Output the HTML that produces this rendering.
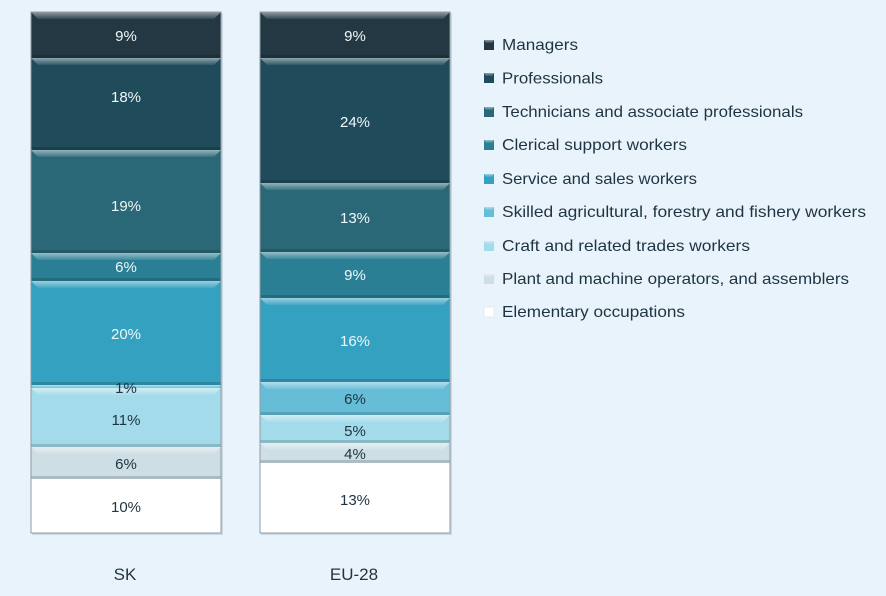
<!DOCTYPE html>
<html><head><meta charset="utf-8"><style>
html,body{margin:0;padding:0;background:#e9f3fb;}
svg{display:block;}
text{font-family:"Liberation Sans",sans-serif;}
</style></head><body>
<svg width="886" height="596" viewBox="0 0 886 596" xmlns="http://www.w3.org/2000/svg">
<defs>
<linearGradient id="hl" x1="0" y1="0" x2="0" y2="1">
<stop offset="0" stop-color="#fff" stop-opacity="0.5"/>
<stop offset="1" stop-color="#fff" stop-opacity="0.08"/>
</linearGradient>
</defs>
<rect width="886" height="596" fill="#e9f3fb"/>

<!-- shadows -->
<rect x="32" y="13" width="191" height="522" fill="#b9c6ce" opacity="0.6"/>
<rect x="261" y="13" width="191" height="522" fill="#b9c6ce" opacity="0.6"/>

<!-- SK bar -->
<g>
<rect x="31" y="12" width="190" height="46" fill="#243843"/>
<rect x="31" y="58" width="190" height="92" fill="#1f4b5a"/>
<rect x="31" y="150" width="190" height="103" fill="#2a6878"/>
<rect x="31" y="253" width="190" height="28" fill="#2b7f94"/>
<rect x="31" y="281" width="190" height="104" fill="#35a1c0"/>
<rect x="31" y="385" width="190" height="3" fill="#66bdd7"/>
<rect x="31" y="388" width="190" height="59" fill="#a3dbea"/>
<rect x="31" y="447" width="190" height="32" fill="#cddee5"/>
<rect x="31" y="479" width="190" height="54" fill="#ffffff"/>
<polygon points="31,12 221,12 214,19 38,19" fill="url(#hl)"/>
<polygon points="31,58 221,58 214,65 38,65" fill="url(#hl)"/>
<polygon points="31,150 221,150 214,157 38,157" fill="url(#hl)"/>
<polygon points="31,253 221,253 214,260 38,260" fill="url(#hl)"/>
<polygon points="31,281 221,281 214,288 38,288" fill="url(#hl)"/>
<polygon points="31,385 221,385 218,388 34,388" fill="url(#hl)"/>
<polygon points="31,388 221,388 214,395 38,395" fill="url(#hl)"/>
<polygon points="31,447 221,447 214,454 38,454" fill="url(#hl)"/>
<polygon points="31,479 221,479 214,486 38,486" fill="url(#hl)"/>
<g fill="#000" opacity="0.15">
<rect x="31" y="55" width="190" height="3"/>
<rect x="31" y="147" width="190" height="3"/>
<rect x="31" y="250" width="190" height="3"/>
<rect x="31" y="278" width="190" height="3"/>
<rect x="31" y="382" width="190" height="3"/>
<rect x="31" y="444" width="190" height="3"/>
<rect x="31" y="476" width="190" height="3"/>
</g>
<rect x="31" y="12" width="190" height="521" fill="none" stroke="#8d9ca5" stroke-width="1"/>
</g>

<!-- EU bar -->
<g>
<rect x="260" y="12" width="190" height="46" fill="#243843"/>
<rect x="260" y="58" width="190" height="125" fill="#1f4b5a"/>
<rect x="260" y="183" width="190" height="69" fill="#2a6878"/>
<rect x="260" y="252" width="190" height="46" fill="#2b7f94"/>
<rect x="260" y="298" width="190" height="84" fill="#35a1c0"/>
<rect x="260" y="382" width="190" height="33" fill="#66bdd7"/>
<rect x="260" y="415" width="190" height="28" fill="#a3dbea"/>
<rect x="260" y="443" width="190" height="20" fill="#cddee5"/>
<rect x="260" y="463" width="190" height="70" fill="#ffffff"/>
<polygon points="260,12 450,12 443,19 267,19" fill="url(#hl)"/>
<polygon points="260,58 450,58 443,65 267,65" fill="url(#hl)"/>
<polygon points="260,183 450,183 443,190 267,190" fill="url(#hl)"/>
<polygon points="260,252 450,252 443,259 267,259" fill="url(#hl)"/>
<polygon points="260,298 450,298 443,305 267,305" fill="url(#hl)"/>
<polygon points="260,382 450,382 443,389 267,389" fill="url(#hl)"/>
<polygon points="260,415 450,415 443,422 267,422" fill="url(#hl)"/>
<polygon points="260,443 450,443 443,450 267,450" fill="url(#hl)"/>
<polygon points="260,463 450,463 443,470 267,470" fill="url(#hl)"/>
<g fill="#000" opacity="0.15">
<rect x="260" y="55" width="190" height="3"/>
<rect x="260" y="180" width="190" height="3"/>
<rect x="260" y="249" width="190" height="3"/>
<rect x="260" y="295" width="190" height="3"/>
<rect x="260" y="379" width="190" height="3"/>
<rect x="260" y="412" width="190" height="3"/>
<rect x="260" y="440" width="190" height="3"/>
<rect x="260" y="460" width="190" height="3"/>
</g>
<rect x="260" y="12" width="190" height="521" fill="none" stroke="#8d9ca5" stroke-width="1"/>
</g>

<!-- data labels -->
<g font-size="15" text-anchor="middle">
<g fill="#eef7fa">
<text x="126" y="41">9%</text>
<text x="126" y="102">18%</text>
<text x="126" y="211">19%</text>
<text x="126" y="272">6%</text>
<text x="126" y="339">20%</text>
<text x="355" y="41">9%</text>
<text x="355" y="127">24%</text>
<text x="355" y="223">13%</text>
<text x="355" y="280">9%</text>
<text x="355" y="346">16%</text>
</g>
<g fill="#1e3442">
<text x="126" y="393">1%</text>
<text x="126" y="425">11%</text>
<text x="126" y="469">6%</text>
<text x="126" y="512">10%</text>
<text x="355" y="404">6%</text>
<text x="355" y="436">5%</text>
<text x="355" y="459">4%</text>
<text x="355" y="505">13%</text>
</g>
</g>

<!-- x labels -->
<g font-size="17" fill="#1e3442" text-anchor="middle">
<text x="125" y="580">SK</text>
<text x="354" y="580">EU-28</text>
</g>

<!-- legend -->
<g>
<rect x="484" y="40" width="10" height="10" fill="#243843"/>
<rect x="484" y="73" width="10" height="10" fill="#1f4b5a"/>
<rect x="484" y="107" width="10" height="10" fill="#2a6878"/>
<rect x="484" y="140" width="10" height="10" fill="#2b7f94"/>
<rect x="484" y="174" width="10" height="10" fill="#35a1c0"/>
<rect x="484" y="207" width="10" height="10" fill="#66bdd7"/>
<rect x="484" y="241" width="10" height="10" fill="#a3dbea"/>
<rect x="484" y="274" width="10" height="10" fill="#cddee5"/>
<rect x="484" y="307" width="10" height="10" fill="#ffffff" stroke="#d5dde2" stroke-width="0.5"/>
<g fill="url(#hl)">
<polygon points="484,40 494,40 492,43 486,43"/>
<polygon points="484,73 494,73 492,76 486,76"/>
<polygon points="484,107 494,107 492,110 486,110"/>
<polygon points="484,140 494,140 492,143 486,143"/>
<polygon points="484,174 494,174 492,177 486,177"/>
<polygon points="484,207 494,207 492,210 486,210"/>
<polygon points="484,241 494,241 492,244 486,244"/>
<polygon points="484,274 494,274 492,277 486,277"/>
</g>
</g>
<g font-size="16" fill="#1e3442">
<text x="502" y="50" textLength="76" lengthAdjust="spacingAndGlyphs">Managers</text>
<text x="502" y="83.5" textLength="101" lengthAdjust="spacingAndGlyphs">Professionals</text>
<text x="502" y="117" textLength="301" lengthAdjust="spacingAndGlyphs">Technicians and associate professionals</text>
<text x="502" y="150" textLength="185" lengthAdjust="spacingAndGlyphs">Clerical support workers</text>
<text x="502" y="184" textLength="195" lengthAdjust="spacingAndGlyphs">Service and sales workers</text>
<text x="502" y="217" textLength="364" lengthAdjust="spacingAndGlyphs">Skilled agricultural, forestry and fishery workers</text>
<text x="502" y="251" textLength="248" lengthAdjust="spacingAndGlyphs">Craft and related trades workers</text>
<text x="502" y="284" textLength="347" lengthAdjust="spacingAndGlyphs">Plant and machine operators, and assemblers</text>
<text x="502" y="317" textLength="183" lengthAdjust="spacingAndGlyphs">Elementary occupations</text>
</g>
</svg>
</body></html>
